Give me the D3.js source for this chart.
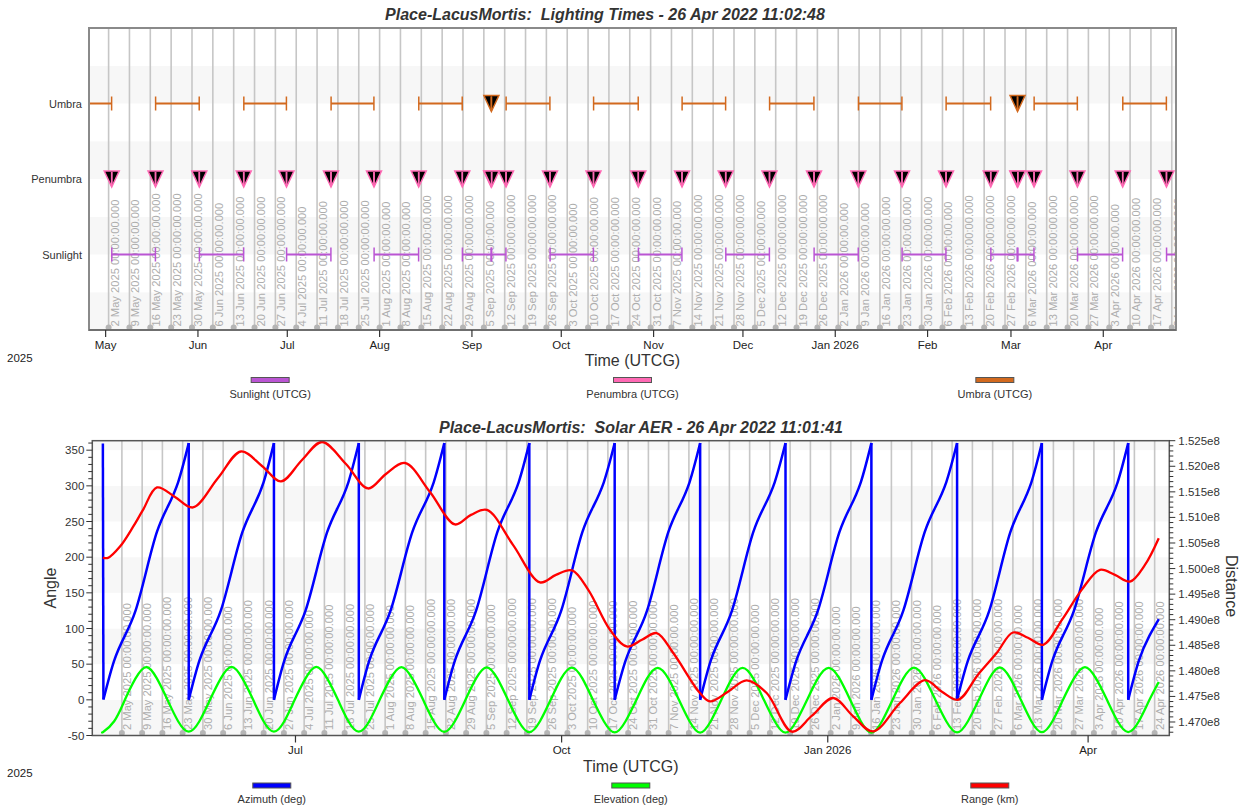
<!DOCTYPE html>
<html>
<head>
<meta charset="utf-8">
<script src="https://cdn.jsdelivr.net/npm/d3@7"></script>
<style>
  html, body { margin: 0; padding: 0; background: #fff; }
  svg { display: block; font-family: "Liberation Sans", Arial, sans-serif; }
</style>
</head>
<body>
<svg id="chart" width="1243" height="809"></svg>
<script>
// ---------------- Data ----------------
const analysisStart = "2025-04-25T10:00";
const analysisEnd   = "2026-04-25T10:00";

const lightingTitle = "Place-LacusMortis:  Lighting Times - 26 Apr 2022 11:02:48";
const aerTitle      = "Place-LacusMortis:  Solar AER - 26 Apr 2022 11:01:41";
const timeAxisTitle = "Time (UTCG)";

// Lighting rows, bottom to top
const lightingRows   = ["Sunlight", "Penumbra", "Umbra"];
const lightingColors = ["#BA55D3", "#FF69B4", "#D2691E"];
const lightingLegend = ["Sunlight (UTCG)", "Penumbra (UTCG)", "Umbra (UTCG)"];

const sunlightIntervals = [
  ["2025-05-03T01:45", "2025-05-17T17:15"],
  ["2025-06-01T11:45", "2025-06-16T08:15"],
  ["2025-06-30T18:25", "2025-07-15T15:30"],
  ["2025-07-30T03:35", "2025-08-14T02:15"],
  ["2025-08-28T19:10", "2025-09-07T10:00"],
  ["2025-09-07T15:20", "2025-09-12T10:00"],
  ["2025-09-27T05:55", "2025-10-11T18:50"],
  ["2025-10-26T21:35", "2025-11-10T12:15"],
  ["2025-11-25T05:55", "2025-12-09T21:15"],
  ["2025-12-24T21:35", "2026-01-08T17:15"],
  ["2026-01-23T10:45", "2026-02-07T03:55"],
  ["2026-02-22T05:45", "2026-03-03T02:00"],
  ["2026-03-03T08:00", "2026-03-08T17:15"],
  ["2026-03-23T08:20", "2026-04-07T11:40"],
  ["2026-04-22T05:55", "2026-04-25T10:00"]
];

const penumbraIntervals = [
  ["2025-05-03T00:15", "2025-05-03T01:45"],
  ["2025-05-17T17:15", "2025-05-17T18:45"],
  ["2025-06-01T10:15", "2025-06-01T11:45"],
  ["2025-06-16T08:15", "2025-06-16T09:45"],
  ["2025-06-30T16:55", "2025-06-30T18:25"],
  ["2025-07-15T15:30", "2025-07-15T17:00"],
  ["2025-07-30T02:05", "2025-07-30T03:35"],
  ["2025-08-14T02:15", "2025-08-14T03:45"],
  ["2025-08-28T17:40", "2025-08-28T19:10"],
  ["2025-09-07T10:00", "2025-09-07T11:20"],
  ["2025-09-07T14:00", "2025-09-07T15:20"],
  ["2025-09-12T10:00", "2025-09-12T11:30"],
  ["2025-09-27T04:25", "2025-09-27T05:55"],
  ["2025-10-11T18:50", "2025-10-11T20:20"],
  ["2025-10-26T20:05", "2025-10-26T21:35"],
  ["2025-11-10T12:15", "2025-11-10T13:45"],
  ["2025-11-25T04:25", "2025-11-25T05:55"],
  ["2025-12-09T21:15", "2025-12-09T22:45"],
  ["2025-12-24T20:05", "2025-12-24T21:35"],
  ["2026-01-08T17:15", "2026-01-08T18:45"],
  ["2026-01-23T09:15", "2026-01-23T10:45"],
  ["2026-02-07T03:55", "2026-02-07T05:25"],
  ["2026-02-22T04:15", "2026-02-22T05:45"],
  ["2026-03-03T02:00", "2026-03-03T03:20"],
  ["2026-03-03T06:40", "2026-03-03T08:00"],
  ["2026-03-08T17:15", "2026-03-08T18:45"],
  ["2026-03-23T06:50", "2026-03-23T08:20"],
  ["2026-04-07T11:40", "2026-04-07T13:10"],
  ["2026-04-22T04:25", "2026-04-22T05:55"]
];

const umbraIntervals = [
  ["2025-04-25T10:00", "2025-05-03T00:15"],
  ["2025-05-17T18:45", "2025-06-01T10:15"],
  ["2025-06-16T09:45", "2025-06-30T16:55"],
  ["2025-07-15T17:00", "2025-07-30T02:05"],
  ["2025-08-14T03:45", "2025-08-28T17:40"],
  ["2025-09-07T11:20", "2025-09-07T14:00"],
  ["2025-09-12T11:30", "2025-09-27T04:25"],
  ["2025-10-11T20:20", "2025-10-26T20:05"],
  ["2025-11-10T13:45", "2025-11-25T04:25"],
  ["2025-12-09T22:45", "2025-12-24T20:05"],
  ["2026-01-08T18:45", "2026-01-23T09:15"],
  ["2026-02-07T05:25", "2026-02-22T04:15"],
  ["2026-03-03T03:20", "2026-03-03T06:40"],
  ["2026-03-08T18:45", "2026-03-23T06:50"],
  ["2026-04-07T13:10", "2026-04-22T04:25"]
];

// Solar AER samples, in elapsed days from the analysis start
const aerElapsedDays = [
  0, 0.2, 3.91, 7.62, 11.3, 14.98, 18.66, 22.33, 26.01, 29.69, 29.69,
  33.37, 37.04, 40.77, 44.5, 48.23, 51.95, 55.55, 59.14, 59.14,
  62.73, 66.32, 70.06, 73.79, 77.53, 81.26, 84.87, 88.48, 88.48,
  92.09, 95.70, 99.45, 103.2, 106.96, 110.71, 114.37, 118.03, 118.03,
  121.69, 125.35, 129.02, 132.69, 136.36, 140.03, 143.73, 147.42, 147.42,
  151.11, 154.8, 158.45, 162.1, 165.75, 169.4, 173.17, 176.93, 176.93,
  180.69, 184.45, 188.12, 191.79, 195.46, 199.13, 202.8, 206.47, 206.47,
  210.14, 213.8, 217.48, 221.15, 224.83, 228.5, 232.24, 235.98, 235.98,
  239.72, 243.45, 247.17, 250.89, 254.61, 258.33, 262.0, 265.67, 265.67,
  269.34, 273.0, 276.7, 280.39, 284.09, 287.78, 291.54, 295.29, 295.29,
  299.04, 302.79, 306.43, 310.06, 313.7, 317.33, 320.97, 324.6, 324.6,
  328.25, 331.9, 335.7, 339.5, 343.3, 347.1, 350.78, 354.45, 354.45,
  358.13, 361.8, 365
];

const azimuthDeg = [
  359.3, 0.4, 55, 90, 125, 180, 235, 270, 305, 360, 0,
  55, 90, 125, 180, 235, 270, 305, 360, 0,
  55, 90, 125, 180, 235, 270, 305, 360, 0,
  55, 90, 125, 180, 235, 270, 305, 360, 0,
  55, 90, 125, 180, 235, 270, 305, 360, 0,
  55, 90, 125, 180, 235, 270, 305, 360, 0,
  55, 90, 125, 180, 235, 270, 305, 360, 0,
  55, 90, 125, 180, 235, 270, 305, 360, 0,
  55, 90, 125, 180, 235, 270, 305, 360, 0,
  55, 90, 125, 180, 235, 270, 305, 360, 0,
  55, 90, 125, 180, 235, 270, 305, 360, 0,
  55, 90, 125, 180, 235, 270, 305, 360, 0,
  55, 90, 113
];

const elevationDeg = [
  -44.7, -44.7, -30, 0, 30, 46.0, 30, 0, -30, -44.6, -44.6,
  -30, 0, 30, 46.2, 30, 0, -30, -44.5, -44.5,
  -30, 0, 30, 46.2, 30, 0, -30, -44.6, -44.6,
  -30, 0, 30, 46.0, 30, 0, -30, -44.9, -44.9,
  -30, 0, 30, 45.6, 30, 0, -30, -45.3, -45.3,
  -30, 0, 30, 45.2, 30, 0, -30, -45.7, -45.7,
  -30, 0, 30, 44.9, 30, 0, -30, -46.0, -46.0,
  -30, 0, 30, 44.8, 30, 0, -30, -46.1, -46.1,
  -30, 0, 30, 44.9, 30, 0, -30, -46.0, -46.0,
  -30, 0, 30, 45.2, 30, 0, -30, -45.7, -45.7,
  -30, 0, 30, 45.6, 30, 0, -30, -45.4, -45.4,
  -30, 0, 30, 45.8, 30, 0, -30, -45.2, -45.2,
  -30, 0, 25
];

const rangeElapsedDays = [
  0, 1.78, 5.92, 10.42, 13.88, 18.71, 24.94, 31.16, 39.8, 47.75,
  55.01, 61.58, 68.84, 75.75, 84.04, 91.65, 97.87, 104.44, 113.08, 121.72,
  127.25, 132.78, 141.77, 151.1, 156.63, 162.16, 167.8, 175.3, 181.07, 186.36,
  191.44, 197.18, 206.41, 209.87, 216.09, 222.55, 229.46, 238.21, 245.12, 252.49,
  259.4, 266.31, 275.54, 284.18, 290.06, 295.69, 302.5, 308.97, 314.6, 319.78,
  325.07, 331.54, 338.35, 344.67, 349.86, 355.04, 360.23, 365
];

const rangeKm = [
  1.50215e8, 1.50209e8, 1.5043e8, 1.50814e8, 1.51147e8, 1.51586e8, 1.514e8, 1.51195e8, 1.51771e8, 1.52289e8,
  1.52006e8, 1.51703e8, 1.52123e8, 1.52475e8, 1.52045e8, 1.51566e8, 1.5185e8, 1.52064e8, 1.51498e8, 1.50863e8,
  1.51049e8, 1.51147e8, 1.50463e8, 1.4973e8, 1.49877e8, 1.49965e8, 1.49584e8, 1.48803e8, 1.48477e8, 1.48607e8,
  1.48738e8, 1.48348e8, 1.47566e8, 1.47402e8, 1.47592e8, 1.47813e8, 1.47566e8, 1.46811e8, 1.47123e8, 1.47469e8,
  1.4711e8, 1.46816e8, 1.47371e8, 1.47817e8, 1.47592e8, 1.47436e8, 1.47924e8, 1.48348e8, 1.4875e8, 1.48647e8,
  1.4851e8, 1.48998e8, 1.49584e8, 1.49975e8, 1.49877e8, 1.49746e8, 1.50072e8, 1.50594e8
];

const aerSeries = ["Azimuth (deg)", "Elevation (deg)", "Range (km)"];
const aerColors = ["#0000FF", "#00FF00", "#FF0000"];

const angleTicks = [-50, 0, 50, 100, 150, 200, 250, 300, 350];
const distanceTicks = [1.470e8, 1.475e8, 1.480e8, 1.485e8, 1.490e8, 1.495e8,
                       1.500e8, 1.505e8, 1.510e8, 1.515e8, 1.520e8, 1.525e8];

// ---------------- Setup ----------------
const parseTime = d3.utcParse("%Y-%m-%dT%H:%M");
const DAY = 864e5;
const t0 = parseTime(analysisStart);
const t1 = parseTime(analysisEnd);
const svg = d3.select("#chart");
const defs = svg.append("defs");

const TEXT = "#333";
const GRID = "#c6c6c6";
const GRID_LABEL = "#adadad";
const BAND = "#f7f7f7";
const weekFormat = d3.utcFormat("%-d %b %Y %H:%M:%S.%L");
const monthFormat = d => d.getUTCMonth() === 0 ? d3.utcFormat("%b %Y")(d) : d3.utcFormat("%b")(d);
const yearLabel = d3.utcFormat("%Y")(t0);
const weeks = d3.utcFriday.range(t0, t1);

function addClip(id, b) {
  defs.append("clipPath").attr("id", id).append("rect")
    .attr("x", b.left).attr("y", b.top)
    .attr("width", b.right - b.left).attr("height", b.bottom - b.top);
}

function title(text, x, y) {
  svg.append("text").attr("x", x).attr("y", y)
    .attr("text-anchor", "middle").attr("font-size", 16)
    .attr("font-weight", "bold").attr("font-style", "italic")
    .attr("fill", TEXT).style("white-space", "pre").text(text);
}

function weeklyGrid(g, x, b, labelDx, labelDy) {
  g.selectAll(".gl").data(weeks).join("line")
    .attr("x1", d => x(d)).attr("x2", d => x(d))
    .attr("y1", b.top).attr("y2", b.bottom)
    .attr("stroke", GRID).attr("stroke-width", 1.6);
  g.selectAll(".wl").data(weeks).join("text")
    .attr("transform", d => `translate(${x(d) + labelDx},${b.bottom - labelDy}) rotate(-90)`)
    .attr("font-size", 11.2).attr("fill", GRID_LABEL)
    .text(d => weekFormat(d));
  g.selectAll(".wd").data(weeks).join("circle")
    .attr("cx", d => x(d)).attr("cy", b.bottom - 2.5).attr("r", 3)
    .attr("fill", "#b5b5b5");
}

function monthAxis(months, x, y, labelY) {
  const g = svg.append("g");
  g.selectAll("line").data(months).join("line")
    .attr("x1", d => x(d)).attr("x2", d => x(d))
    .attr("y1", y).attr("y2", y + 7)
    .attr("stroke", "#333").attr("stroke-width", 1.2);
  g.selectAll("text").data(months).join("text")
    .attr("x", d => x(d)).attr("y", labelY)
    .attr("text-anchor", "middle").attr("font-size", 11.5).attr("fill", "#222")
    .text(monthFormat);
}

function legend(labels, colors, b, swatchY, labelY) {
  const w = b.right - b.left;
  labels.forEach((lab, i) => {
    const cx = b.left + w * (2 * i + 1) / 6;
    svg.append("rect").attr("x", cx - 19).attr("y", swatchY)
      .attr("width", 38).attr("height", 5)
      .attr("fill", colors[i]).attr("stroke", "#555").attr("stroke-width", 1);
    svg.append("text").attr("x", cx).attr("y", labelY)
      .attr("text-anchor", "middle").attr("font-size", 11).attr("fill", TEXT)
      .text(lab);
  });
}

// ---------------- Lighting Times ----------------
const LB = { left: 89, right: 1176, top: 28, bottom: 330 };
addClip("clipL", LB);
const xL = d3.scaleUtc().domain([t0, t1]).range([LB.left, LB.right]);
const yL = d3.scaleLinear().domain([0, 4]).range([LB.bottom, LB.top]);

title(lightingTitle, 605, 19.5);

const gL = svg.append("g").attr("clip-path", "url(#clipL)");
gL.selectAll(".band").data(d3.range(0, 4, 0.5)).join("rect")
  .attr("x", LB.left).attr("width", LB.right - LB.left)
  .attr("y", d => yL(d + 0.5)).attr("height", d => yL(d) - yL(d + 0.5))
  .attr("fill", (d, i) => i % 2 === 0 ? BAND : "#fff");
weeklyGrid(gL, xL, LB, 10, 3.5);

const intervalSets = [sunlightIntervals, penumbraIntervals, umbraIntervals];
intervalSets.forEach((set, r) => {
  const y = yL(r + 1);
  const color = lightingColors[r];
  const g = svg.append("g");
  set.forEach(([s, e]) => {
    const x0 = xL(parseTime(s)), x1 = xL(parseTime(e));
    if (x1 - x0 < 4) {
      const xm = (x0 + x1) / 2;
      g.append("path")
        .attr("d", `M${xm - 7.5},${y - 8}L${xm + 7.5},${y - 8}L${xm},${y + 8}Z`)
        .attr("fill", "#000").attr("stroke", color).attr("stroke-width", 1.5)
        .attr("stroke-linejoin", "miter");
    } else {
      g.append("line").attr("x1", x0).attr("x2", x1).attr("y1", y).attr("y2", y)
        .attr("stroke", color).attr("stroke-width", 2);
    }
    [x0, x1].forEach(xx => g.append("line")
      .attr("x1", xx).attr("x2", xx).attr("y1", y - 7).attr("y2", y + 7)
      .attr("stroke", color).attr("stroke-width", 1.5));
  });
});

svg.append("rect").attr("x", LB.left).attr("y", LB.top)
  .attr("width", LB.right - LB.left).attr("height", LB.bottom - LB.top)
  .attr("fill", "none").attr("stroke", "#8a8a8a").attr("stroke-width", 2);
svg.append("line").attr("x1", LB.left).attr("x2", LB.right)
  .attr("y1", LB.bottom).attr("y2", LB.bottom)
  .attr("stroke", "#666").attr("stroke-width", 1.6);

lightingRows.forEach((name, r) => {
  svg.append("text").attr("x", 82).attr("y", yL(r + 1) + 4)
    .attr("text-anchor", "end").attr("font-size", 11).attr("fill", TEXT).text(name);
});

monthAxis(d3.utcMonth.range(d3.utcMonth.ceil(t0), t1), xL, LB.bottom, 348.5);
svg.append("text").attr("x", 7).attr("y", 362).attr("font-size", 11.5).attr("fill", "#222").text(yearLabel);
svg.append("text").attr("x", (LB.left + LB.right) / 2).attr("y", 366)
  .attr("text-anchor", "middle").attr("font-size", 16).attr("fill", TEXT).text(timeAxisTitle);
legend(lightingLegend, lightingColors, LB, 377.5, 398);

// ---------------- Solar AER ----------------
const AB = { left: 92.3, right: 1169.3, top: 440.7, bottom: 735.5 };
addClip("clipA", AB);
const padMs = 3.65 * DAY;
const xA = d3.scaleUtc().domain([new Date(+t0 - padMs), new Date(+t1 + padMs)]).range([AB.left, AB.right]);
const yAng = d3.scaleLinear().domain([-50, 363.3]).range([AB.bottom, AB.top]);
const yDist = d3.scaleLinear().domain([1.46736e8, 1.525e8]).range([AB.bottom, AB.top]);

title(aerTitle, 641, 432.5);

const gA = svg.append("g").attr("clip-path", "url(#clipA)");
gA.selectAll(".band").data(d3.range(-50, 363.3, 50)).join("rect")
  .attr("x", AB.left).attr("width", AB.right - AB.left)
  .attr("y", d => yAng(Math.min(d + 50, 363.3))).attr("height", d => yAng(d) - yAng(Math.min(d + 50, 363.3)))
  .attr("fill", (d, i) => i % 2 === 0 ? BAND : "#fff");
weeklyGrid(gA, xA, AB, 9, 5.5);

const aerRows = aerElapsedDays.map((d, i) => ({
  t: new Date(+t0 + d * DAY), day: d, az: azimuthDeg[i], el: elevationDeg[i]
}));

// Azimuth: smooth runs between the 360 -> 0 wraps, joined by straight drops
const runs = [];
aerRows.forEach((r, i) => {
  if (i === 0 || r.az < aerRows[i - 1].az - 180) runs.push([r]);
  else runs[runs.length - 1].push(r);
});
const azLine = d3.line().x(d => xA(d.t)).y(d => yAng(d.az)).curve(d3.curveNatural);
runs.forEach((run, k) => {
  if (run.length > 1) {
    gA.append("path").attr("d", azLine(run)).attr("fill", "none")
      .attr("stroke", aerColors[0]).attr("stroke-width", 2.5).attr("stroke-linejoin", "round");
  }
  if (k > 0) {
    const a = runs[k - 1][runs[k - 1].length - 1], b = run[0];
    gA.append("line").attr("x1", xA(a.t)).attr("y1", yAng(a.az))
      .attr("x2", xA(b.t)).attr("y2", yAng(b.az))
      .attr("stroke", aerColors[0]).attr("stroke-width", 2.5);
  }
});

const elRows = aerRows.filter((r, i) => i === 0 || r.day !== aerRows[i - 1].day);
gA.append("path")
  .attr("d", d3.line().x(d => xA(d.t)).y(d => yAng(d.el)).curve(d3.curveNatural)(elRows))
  .attr("fill", "none").attr("stroke", aerColors[1]).attr("stroke-width", 2.3);

const rangeRows = rangeElapsedDays.map((d, i) => ({ t: new Date(+t0 + d * DAY), v: rangeKm[i] }));
gA.append("path")
  .attr("d", d3.line().x(d => xA(d.t)).y(d => yDist(d.v)).curve(d3.curveCatmullRom.alpha(0.5))(rangeRows))
  .attr("fill", "none").attr("stroke", aerColors[2]).attr("stroke-width", 2.3);

// frame
svg.append("rect").attr("x", AB.left).attr("y", AB.top)
  .attr("width", AB.right - AB.left).attr("height", AB.bottom - AB.top)
  .attr("fill", "none").attr("stroke", "#555").attr("stroke-width", 1.5);

// left angle axis
const gLeft = svg.append("g");
d3.range(-50, 361, 10).forEach(v => {
  const major = angleTicks.includes(v);
  gLeft.append("line").attr("x1", AB.left - (major ? 6 : 4)).attr("x2", AB.left)
    .attr("y1", yAng(v)).attr("y2", yAng(v)).attr("stroke", "#333").attr("stroke-width", 1);
});
angleTicks.forEach(v => {
  gLeft.append("text").attr("x", AB.left - 8).attr("y", yAng(v) + 4)
    .attr("text-anchor", "end").attr("font-size", 11.5).attr("fill", TEXT).text(v);
});

// right distance axis
const gRight = svg.append("g");
d3.range(0, 58).map(i => 1.468e8 + i * 1e5).forEach((v, i) => {
  const major = (i - 2) % 5 === 0;
  gRight.append("line").attr("x1", AB.right).attr("x2", AB.right + (major ? 6 : 4))
    .attr("y1", yDist(v)).attr("y2", yDist(v)).attr("stroke", "#333").attr("stroke-width", 1);
});
distanceTicks.forEach(v => {
  gRight.append("text").attr("x", AB.right + 9).attr("y", yDist(v) + 4)
    .attr("font-size", 11.5).attr("fill", TEXT).text(d3.format(".3f")(v / 1e8) + "e8");
});

svg.append("text").attr("transform", `translate(56,588) rotate(-90)`)
  .attr("text-anchor", "middle").attr("font-size", 16).attr("fill", TEXT).text("Angle");
svg.append("text").attr("transform", `translate(1226,586) rotate(90)`)
  .attr("text-anchor", "middle").attr("font-size", 16).attr("fill", TEXT).text("Distance");

monthAxis(d3.utcMonth.every(3).range(xA.domain()[0], xA.domain()[1]), xA, AB.bottom, 754);
svg.append("text").attr("x", 7).attr("y", 777).attr("font-size", 11.5).attr("fill", "#222").text(yearLabel);
svg.append("text").attr("x", (AB.left + AB.right) / 2).attr("y", 771.5)
  .attr("text-anchor", "middle").attr("font-size", 16).attr("fill", TEXT).text(timeAxisTitle);
legend(aerSeries, aerColors, AB, 783, 803);
</script>
</body>
</html>
